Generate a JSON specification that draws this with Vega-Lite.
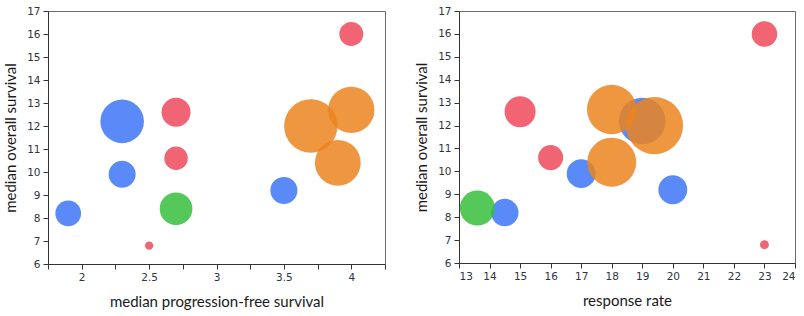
{
  "$schema": "https://vega.github.io/schema/vega-lite/v6.json",
  "background": "white",
  "padding": {"left": 3, "top": 5, "right": 5, "bottom": 5},
  "spacing": 28,
  "config": {
    "view": {"stroke": "#6b6b6b", "strokeWidth": 1},
    "axis": {
      "grid": false,
      "domainColor": "#333333",
      "tickColor": "#333333",
      "tickSize": 5,
      "labelFont": "DejaVu Sans",
      "labelFontSize": 10.5,
      "labelColor": "#30343f",
      "titleFont": "Lato",
      "titleFontSize": 15,
      "titleFontWeight": "normal",
      "titleColor": "#1a1a1a"
    },
    "point": {"filled": true, "opacity": 0.85, "strokeWidth": 0}
  },
  "data": {
    "values": [
      {"group": "blue", "pfs": 2.3, "os": 12.2, "rr": 19.0, "n": 190},
      {"group": "blue", "pfs": 2.3, "os": 9.9, "rr": 17.0, "n": 73},
      {"group": "blue", "pfs": 1.9, "os": 8.2, "rr": 14.5, "n": 66},
      {"group": "blue", "pfs": 3.5, "os": 9.2, "rr": 20.0, "n": 73},
      {"group": "green", "pfs": 2.7, "os": 8.4, "rr": 13.6, "n": 107},
      {"group": "red", "pfs": 2.7, "os": 12.6, "rr": 15.0, "n": 84},
      {"group": "red", "pfs": 2.7, "os": 10.6, "rr": 16.0, "n": 55},
      {"group": "red", "pfs": 4.0, "os": 16.0, "rr": 23.0, "n": 57},
      {"group": "red", "pfs": 2.5, "os": 6.8, "rr": 23.0, "n": 7},
      {"group": "orange", "pfs": 3.7, "os": 12.0, "rr": 19.4, "n": 286},
      {"group": "orange", "pfs": 4.0, "os": 12.7, "rr": 18.0, "n": 214},
      {"group": "orange", "pfs": 3.9, "os": 10.4, "rr": 18.0, "n": 210}
    ]
  },
  "resolve": {"scale": {"size": "independent", "x": "independent"}},
  "hconcat": [
    {
      "width": 337,
      "height": 253,
      "mark": {"type": "point", "shape": "circle"},
      "encoding": {
        "x": {
          "field": "pfs", "type": "quantitative",
          "scale": {"domain": [1.75, 4.25], "nice": false, "zero": false},
          "axis": {
            "title": "median progression-free survival",
            "values": [1.75, 2, 2.25, 2.5, 2.75, 3, 3.25, 3.5, 3.75, 4, 4.25],
            "format": "~g",
            "labelExpr": "datum.value % 0.5 === 0 && datum.value > 1.9 && datum.value < 4.1 ? datum.label : ''",
            "labelPadding": 3,
            "titlePadding": 12
          }
        },
        "y": {
          "field": "os", "type": "quantitative",
          "scale": {"domain": [6, 17], "nice": false, "zero": false},
          "axis": {
            "title": "median overall survival",
            "values": [6, 7, 8, 9, 10, 11, 12, 13, 14, 15, 16, 17],
            "labelPadding": 3,
            "titlePadding": 8
          }
        },
        "size": {
          "field": "n", "type": "quantitative",
          "scale": {"type": "linear", "domain": [0, 300], "range": [0, 3000]},
          "legend": null
        },
        "color": {
          "field": "group", "type": "nominal",
          "scale": {"domain": ["blue", "red", "green", "orange"], "range": ["#3d76f7", "#ee495a", "#37be3d", "#eb841f"]},
          "legend": null
        }
      }
    },
    {
      "width": 336,
      "height": 252,
      "mark": {"type": "point", "shape": "circle"},
      "encoding": {
        "x": {
          "field": "rr", "type": "quantitative",
          "scale": {"domain": [13, 24], "nice": false, "zero": false},
          "axis": {
            "title": "response rate",
            "values": [13, 14, 15, 16, 17, 18, 19, 20, 21, 22, 23, 24],
            "labelPadding": 3,
            "titlePadding": 12
          }
        },
        "y": {
          "field": "os", "type": "quantitative",
          "scale": {"domain": [6, 17], "nice": false, "zero": false},
          "axis": {
            "title": "median overall survival",
            "values": [6, 7, 8, 9, 10, 11, 12, 13, 14, 15, 16, 17],
            "labelPadding": 3,
            "titlePadding": 8
          }
        },
        "size": {
          "field": "n", "type": "quantitative",
          "scale": {"type": "linear", "domain": [0, 300], "range": [0, 3430]},
          "legend": null
        },
        "color": {
          "field": "group", "type": "nominal",
          "scale": {"domain": ["blue", "red", "green", "orange"], "range": ["#3d76f7", "#ee495a", "#37be3d", "#eb841f"]},
          "legend": null
        }
      }
    }
  ]
}
